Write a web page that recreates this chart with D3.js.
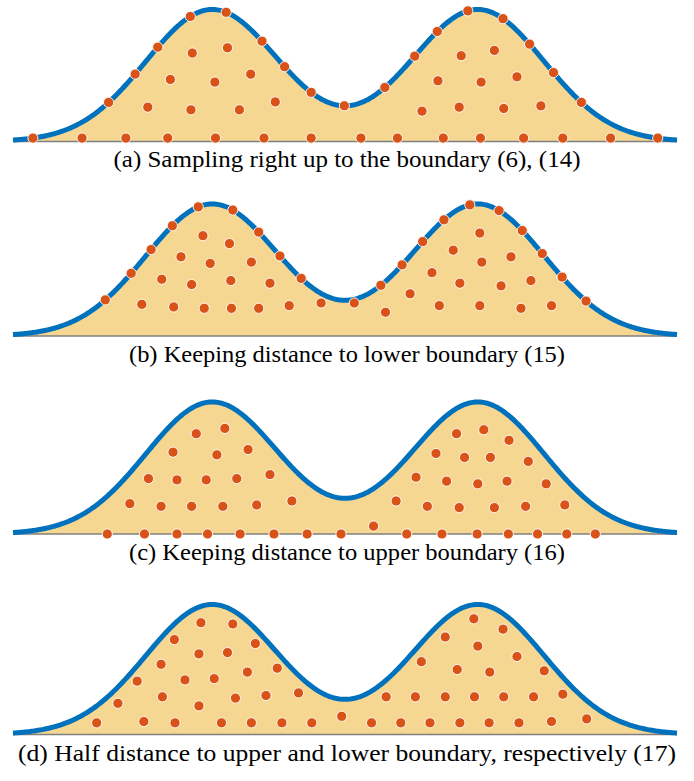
<!DOCTYPE html>
<html><head><meta charset="utf-8">
<script src="https://cdn.jsdelivr.net/npm/d3@7"></script>
<style>body{margin:0;background:#fff} text.cap{font-family:'Liberation Serif','Times New Roman',Times,serif;}</style>
</head><body>
<svg id="c" width="694" height="781"></svg>
<script>
// ---------------- data ----------------
// density model: mixture of two unit Gaussians
const peakMeans = [-2, 2];
const peakSigma = 1;
const xExtent = [-5, 5];

const captions = [
  "(a) Sampling right up to the boundary (6), (14)",
  "(b) Keeping distance to lower boundary (15)",
  "(c) Keeping distance to upper boundary (16)",
  "(d) Half distance to upper and lower boundary, respectively (17)"
];

// (a) samples on the upper boundary (x only, they lie on the curve)
const aUpperX = [-3.56, -3.16, -2.82, -2.33, -1.79, -1.25, -0.91, -0.51, -0.01,
                 0.60, 1.05, 1.39, 1.85, 2.38, 2.78, 3.14, 3.56];
// (a) samples on the lower boundary
const aLowerX = [-4.70, -3.96, -3.30, -2.67, -1.95, -1.22, -0.51, 0.24, 0.79,
                 1.48, 2.04, 2.69, 3.28, 4.00, 4.71];
const aLowerY = 0.026;
// (a) interior samples [x, y]
const aInner = [[-2.30,0.67],[-1.77,0.71],[-2.63,0.47],[-1.96,0.45],[-1.42,0.51],
  [-2.97,0.26],[-2.32,0.24],[-1.59,0.24],[-1.05,0.30],
  [1.75,0.65],[2.25,0.69],[1.40,0.46],[2.05,0.45],[2.59,0.49],
  [1.16,0.23],[1.72,0.26],[2.39,0.25],[2.95,0.27]];

// (b) samples on the upper boundary
const bUpperX = [-3.61, -3.22, -2.92, -2.60, -2.21, -1.69, -1.30, -0.98, -0.66,
                 0.54, 0.86, 1.17, 1.49, 1.88, 2.32, 2.67, 2.97, 3.27, 3.63];
// (b) interior samples
const bInner = [[-2.14,0.76],[-1.74,0.70],[-2.47,0.60],[-2.03,0.55],[-1.41,0.56],
  [-2.76,0.43],[-2.31,0.39],[-1.72,0.42],[-1.13,0.40],
  [-3.06,0.24],[-2.58,0.22],[-2.12,0.21],[-1.71,0.21],[-1.30,0.21],[-0.84,0.23],[-0.36,0.25],
  [0.14,0.25],[0.61,0.18],
  [2.03,0.78],[1.63,0.65],[2.06,0.56],[2.50,0.60],
  [1.31,0.48],[1.73,0.40],[2.35,0.38],[2.80,0.42],
  [0.98,0.32],[1.42,0.23],[2.03,0.23],[2.65,0.21],[3.11,0.23]];

// (c) samples on the lower boundary
const cLowerX = [-3.58, -3.02, -2.53, -2.07, -1.58, -1.07, -0.57, -0.06,
                 0.93, 1.46, 1.99, 2.46, 2.90, 3.34, 3.77];
const cLowerY = 0.0;
// (c) interior samples
const cInner = [[-2.24,0.76],[-1.81,0.80],[-2.59,0.62],[-1.93,0.60],[-1.46,0.64],
  [-2.96,0.42],[-2.53,0.41],[-2.09,0.41],[-1.63,0.42],[-1.13,0.45],
  [-3.24,0.23],[-2.77,0.21],[-2.31,0.21],[-1.84,0.21],[-1.33,0.22],[-0.80,0.25],
  [0.43,0.06],
  [1.68,0.76],[2.09,0.79],[2.47,0.71],
  [1.37,0.61],[1.80,0.58],[2.19,0.58],[2.76,0.55],
  [1.07,0.43],[1.53,0.40],[2.00,0.38],[2.44,0.40],[3.03,0.38],
  [0.77,0.25],[1.24,0.21],[1.72,0.20],[2.25,0.20],[2.72,0.21],[3.31,0.22]];

// (d) interior samples
const dInner = [[-2.17,0.86],[-1.69,0.85],[-2.57,0.73],[-1.35,0.70],[-2.20,0.62],[-1.77,0.63],
  [-2.77,0.54],[-2.41,0.42],[-1.97,0.43],[-1.47,0.48],[-1.02,0.51],[-3.13,0.41],
  [-2.75,0.29],[-2.20,0.22],[-1.65,0.28],[-1.19,0.30],[-0.70,0.32],[-3.42,0.24],
  [-3.74,0.09],[-3.03,0.10],[-2.56,0.09],[-1.86,0.09],[-1.41,0.09],[-0.95,0.09],[-0.50,0.09],[-0.05,0.14],
  [1.94,0.89],[2.38,0.81],[1.51,0.75],[2.00,0.68],[2.59,0.60],
  [1.15,0.56],[1.69,0.50],[2.18,0.48],[3.00,0.49],
  [0.62,0.29],[1.06,0.29],[1.51,0.29],[1.95,0.29],[2.39,0.29],[2.84,0.29],[3.28,0.31],
  [0.40,0.09],[0.84,0.09],[1.28,0.09],[1.73,0.09],[2.17,0.09],[2.62,0.09],[3.11,0.10],[3.64,0.12]];

// ---------------- drawing ----------------
const density = x => d3.sum(peakMeans, m => Math.exp(-((x - m) ** 2) / (2 * peakSigma * peakSigma)));

const panels = [
  {pts: [...aUpperX.map(x => [x, density(x)]), ...aLowerX.map(x => [x, aLowerY]), ...aInner]},
  {pts: [...bUpperX.map(x => [x, density(x)]), ...bInner]},
  {pts: [...cLowerX.map(x => [x, cLowerY]), ...cInner]},
  {pts: [...dInner]}
];

const layout = {
  base: [141.5, 336, 534, 734.5],
  height: [132, 132, 132, 130],
  captionY: [167, 362, 560, 761],
  captionW: [467, 436, 436, 658]
};

const svg = d3.select("#c");
const x = d3.scaleLinear().domain(xExtent).range([13, 677]);
const curveX = d3.range(xExtent[0], xExtent[1] + 1e-9, 0.02);

panels.forEach((p, i) => {
  const y = d3.scaleLinear().domain([0, 1]).range([layout.base[i], layout.base[i] - layout.height[i]]);
  const g = svg.append("g");
  g.append("path")
    .datum(curveX)
    .attr("d", d3.area().x(d => x(d)).y0(y(0)).y1(d => y(density(d))))
    .attr("fill", "#F6D791");
  g.append("line")
    .attr("x1", x(xExtent[0])).attr("x2", x(xExtent[1]))
    .attr("y1", y(0)).attr("y2", y(0))
    .attr("stroke", "#7f7f7f").attr("stroke-width", 1.5);
  g.append("path")
    .datum(curveX)
    .attr("d", d3.line().x(d => x(d)).y(d => y(density(d))))
    .attr("fill", "none").attr("stroke", "#0072BD").attr("stroke-width", 5);
  g.selectAll("circle").data(p.pts).join("circle")
    .attr("cx", d => x(d[0])).attr("cy", d => y(d[1]))
    .attr("r", 5.1)
    .attr("fill", "#D95319").attr("stroke", "#fff").attr("stroke-width", 0.9);
  svg.append("text")
    .attr("class", "cap")
    .attr("x", 347).attr("y", layout.captionY[i])
    .attr("text-anchor", "middle")
    .attr("font-size", 23.5)
    .attr("textLength", layout.captionW[i])
    .attr("lengthAdjust", "spacingAndGlyphs")
    .attr("fill", "#000")
    .text(captions[i]);
});
</script>
</body></html>
